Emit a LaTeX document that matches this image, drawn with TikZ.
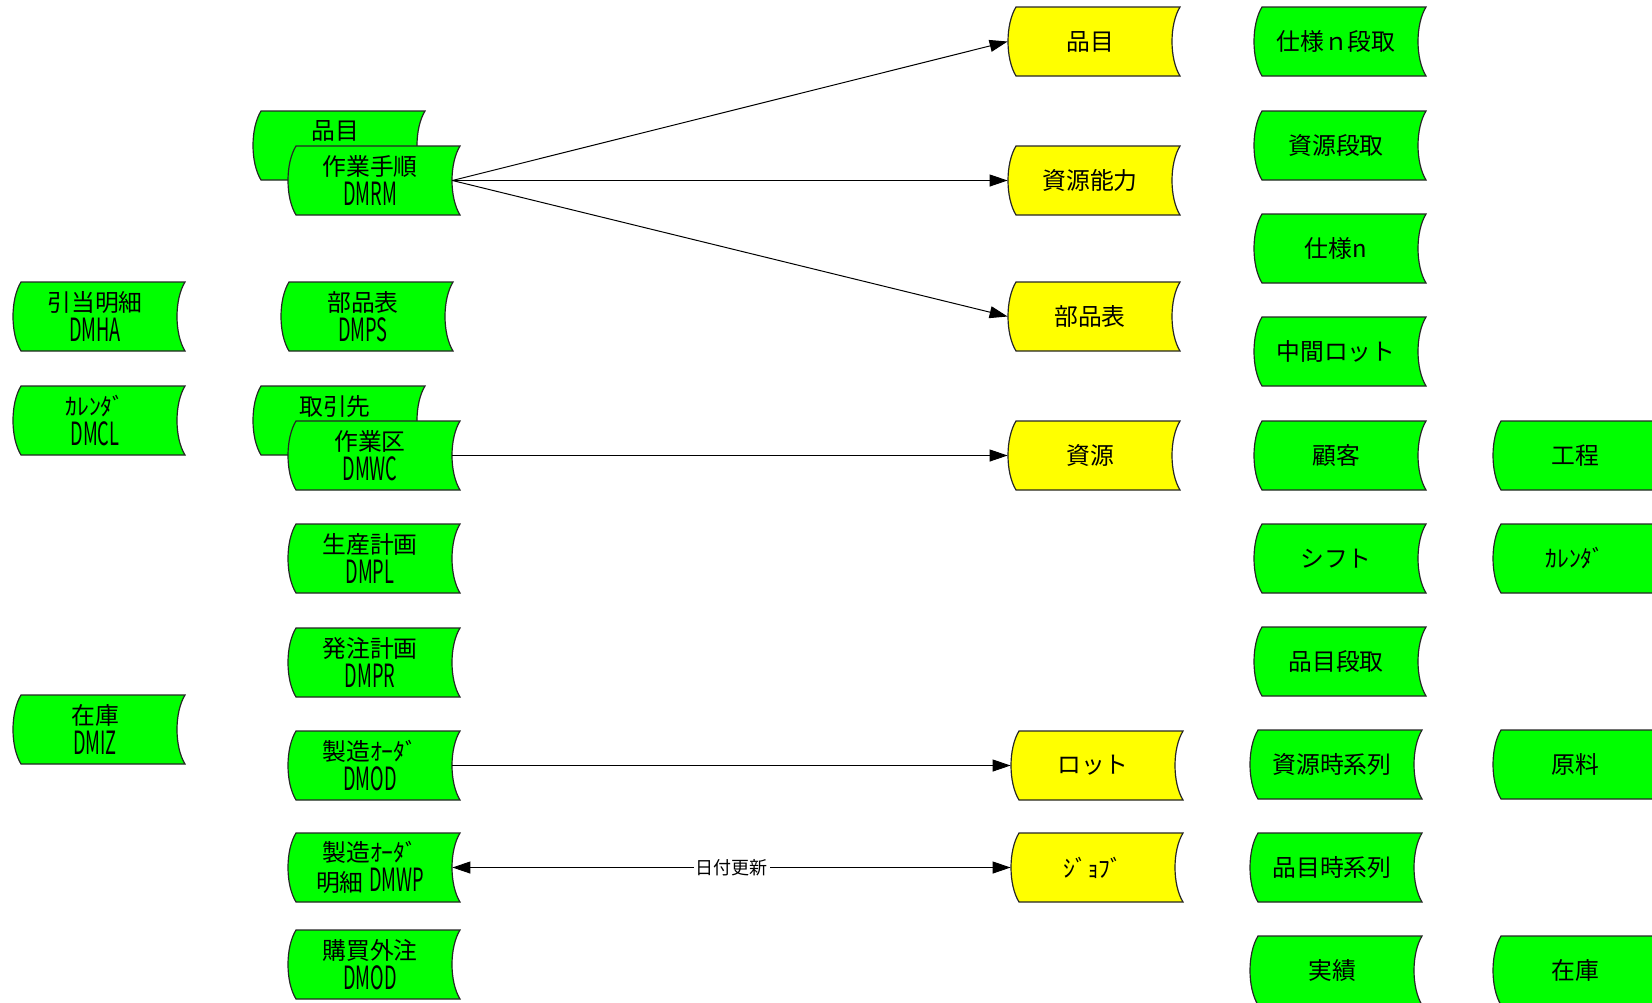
\documentclass[tikz,border=0pt]{standalone}
\usepackage{graphicx}
\usepackage{fontspec}
\setmainfont{Noto Sans CJK JP}
\usetikzlibrary{arrows.meta}
\definecolor{gr}{RGB}{0,255,0}
\definecolor{yl}{RGB}{255,255,0}
\newcommand\lat[1]{\scalebox{0.57}[1]{\fontsize{16pt}{16pt}\selectfont #1}}
\tikzset{
  shapeline/.style={draw=black!85, line width=0.6pt},
  storetext/.style={minimum width=82pt, minimum height=34.5pt, inner sep=0pt, align=center, font=\fontsize{11.9pt}{15pt}\selectfont},
  conn/.style={line width=0.5pt, -{Triangle[length=9pt,width=6pt]}},
  conn2/.style={line width=0.5pt, {Triangle[length=9pt,width=6pt]}-{Triangle[length=9pt,width=6pt]}},
  lbl/.style={fill=white, inner sep=1pt, font=\fontsize{9pt}{9pt}\selectfont}
}
% #1 name, #2 x0 (left bulge), #3 top, #4 fill, #5 text
\newcommand\storeshape[5]{%
  \draw[shapeline, fill=#4] ({#2+8},{#3}) -- ({#2+172},{#3})
     .. controls ({#2+164-8/3},{#3+69/4}) and ({#2+164-8/3},{#3+3*69/4}) .. ({#2+172},{#3+69})
     -- ({#2+8},{#3+69})
     .. controls ({#2-8/3},{#3+3*69/4}) and ({#2-8/3},{#3+69/4}) .. ({#2+8},{#3}) -- cycle;
  \node[storetext] (#1) at ({#2+82},{#3+34.5}) {#5};
}
\begin{document}
\begin{tikzpicture}[x=0.5pt,y=-0.5pt]
\useasboundingbox (0,0) rectangle (1652,1002);
\clip (0,0) rectangle (1652,1002);
% column 1
\storeshape{n1}{13}{282}{gr}{引当明細\\\lat{DMHA}}
\storeshape{n2}{13}{386}{gr}{ｶﾚﾝﾀﾞ\\\lat{DMCL}}
\storeshape{n3}{13}{695}{gr}{在庫\\\lat{DMIZ}}
% column 2
\storeshape{b1}{253}{111}{gr}{品目\\\lat{\phantom{DMRM}}}
\storeshape{rm}{288}{146}{gr}{作業手順\\\lat{DMRM}}
\storeshape{ps}{281}{282}{gr}{部品表\\\lat{DMPS}}
\storeshape{b2}{253}{386}{gr}{取引先\\\lat{\phantom{DMWC}}}
\storeshape{wc}{288}{421}{gr}{作業区\\\lat{DMWC}}
\storeshape{pl}{288}{524}{gr}{生産計画\\\lat{DMPL}}
\storeshape{pr}{288}{628}{gr}{発注計画\\\lat{DMPR}}
\storeshape{od}{288}{731}{gr}{製造ｵｰﾀﾞ\\\lat{DMOD}}
\storeshape{wp}{288}{833}{gr}{製造ｵｰﾀﾞ\\明細 \lat{DMWP}}
\storeshape{po}{288}{930}{gr}{購買外注\\\lat{DMOD}}
% column 3 (yellow)
\storeshape{y1}{1008}{7}{yl}{品目}
\storeshape{y2}{1008}{146}{yl}{資源能力}
\storeshape{y3}{1008}{282}{yl}{部品表}
\storeshape{y4}{1008}{421}{yl}{資源}
\storeshape{y5}{1011}{731}{yl}{ロット}
\storeshape{y6}{1011}{833}{yl}{ｼﾞｮﾌﾞ}
% column 4
\storeshape{g1}{1254}{7}{gr}{仕様ｎ段取}
\storeshape{g2}{1254}{111}{gr}{資源段取}
\storeshape{g3}{1254}{214}{gr}{仕様n}
\storeshape{g4}{1254}{317}{gr}{中間ロット}
\storeshape{g5}{1254}{421}{gr}{顧客}
\storeshape{g6}{1254}{524}{gr}{シフト}
\storeshape{g7}{1254}{627}{gr}{品目段取}
\storeshape{g8}{1250}{730}{gr}{資源時系列}
\storeshape{g9}{1250}{833}{gr}{品目時系列}
\storeshape{g10}{1250}{936}{gr}{実績}
% column 5
\storeshape{h1}{1493}{421}{gr}{工程}
\storeshape{h2}{1493}{524}{gr}{ｶﾚﾝﾀﾞ}
\storeshape{h3}{1493}{730}{gr}{原料}
\storeshape{h4}{1493}{936}{gr}{在庫}
% connectors
\draw[conn] (rm.east) -- (y1.west);
\draw[conn] (rm.east) -- (y2.west);
\draw[conn] (rm.east) -- (y3.west);
\draw[conn] (wc.east) -- (y4.west);
\draw[conn] (od.east) -- (y5.west);
\draw[conn2] (wp.east) -- node[lbl] (upd) {日付更新} (y6.west);
\end{tikzpicture}
\end{document}
